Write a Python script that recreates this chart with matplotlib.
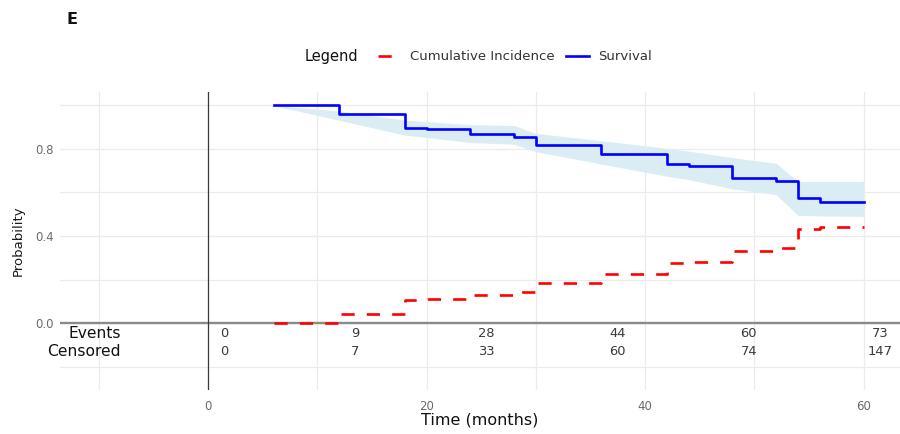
import matplotlib
matplotlib.use("Agg")
import matplotlib.pyplot as plt
from matplotlib.lines import Line2D

# Kaplan-Meier style estimates (months)
times = [6, 12, 18, 20, 24, 28, 30, 36, 42, 44, 48, 52, 54, 56, 60]
survival = [1.000, 0.961, 0.898, 0.890, 0.869, 0.857, 0.817, 0.777,
            0.731, 0.722, 0.665, 0.653, 0.573, 0.558, 0.558]
cum_incidence = [0.000, 0.040, 0.105, 0.110, 0.129, 0.143, 0.182, 0.226,
                 0.275, 0.280, 0.332, 0.343, 0.433, 0.443, 0.443]
surv_upper = [1.000, 0.975, 0.933, 0.926, 0.912, 0.908, 0.872, 0.838,
              0.803, 0.790, 0.760, 0.734, 0.651, 0.651, 0.651]
surv_lower = [1.000, 0.932, 0.864, 0.853, 0.830, 0.822, 0.788, 0.731,
              0.675, 0.659, 0.617, 0.590, 0.495, 0.492, 0.490]

# Risk table
table_times = [0, 12, 24, 36, 48, 60]
events = [0, 9, 28, 44, 60, 73]
censored = [0, 7, 33, 60, 74, 147]
row_labels = ["Events", "Censored"]

x_ticks = [0, 20, 40, 60]
y_ticks = [0.0, 0.4, 0.8]

fig = plt.figure(figsize=(9, 4.34), dpi=100)
ax = fig.add_axes([60 / 900, 1 - 390 / 434, 840 / 900, 298 / 434])
ax.set_xlim(-13.55, 63.34)
ax.set_ylim(-0.308, 1.062)

for s in ax.spines.values():
    s.set_visible(False)

# background grid (major + minor)
grid_kw = dict(color="#ebebeb", lw=0.9, zorder=0)
for gx in range(-10, 61, 10):
    ax.axvline(gx, **grid_kw)
for gy in [-0.2, 0.0, 0.2, 0.4, 0.6, 0.8, 1.0]:
    ax.axhline(gy, **grid_kw)

# reference lines
ax.axhline(0, color="#8a8a8a", lw=1.7, zorder=2)
ax.axvline(0, color="#3a3a3a", lw=0.9, zorder=2)

# confidence band for survival
ax.fill_between(times, surv_lower, surv_upper, color="#dbedf4", lw=0, zorder=1)

ci_line, = ax.plot(times, cum_incidence, drawstyle="steps-post", color="#ff0000",
                   lw=1.9, zorder=4)
ci_line.set_dashes((5.0, 4.6))
surv_line, = ax.plot(times, survival, drawstyle="steps-post", color="#0000ff",
                     lw=1.9, zorder=5)

# risk table inside the panel
ev_y, ce_y = -0.049, -0.131
ax.text(-8, ev_y, row_labels[0], ha="right", va="center", fontsize=11.2, color="#111111")
ax.text(-8, ce_y, row_labels[1], ha="right", va="center", fontsize=11.2, color="#111111")
for t, e, c in zip(table_times, events, censored):
    ax.text(t + 1.5, ev_y, str(e), ha="center", va="center", fontsize=9.4, color="#3a3a3a")
    ax.text(t + 1.5, ce_y, str(c), ha="center", va="center", fontsize=9.4, color="#3a3a3a")

ax.set_xticks(x_ticks)
ax.set_xticklabels([str(v) for v in x_ticks])
ax.set_yticks(y_ticks)
ax.set_yticklabels([f"{v:.1f}" for v in y_ticks])
ax.tick_params(axis="both", length=0, labelsize=8.5, labelcolor="#6b6b6b")
ax.tick_params(axis="x", pad=7.5)
ax.tick_params(axis="y", pad=4.5)

ax.set_xlabel("Time (months)", fontsize=11.5, color="#111111")
ax.xaxis.set_label_coords(0.5, -0.077)
ax.xaxis.label.set_va("top")
ax.set_ylabel("Probability", fontsize=9.5, color="#1a1a1a")
ax.yaxis.set_label_coords(-0.042, 0.5)

# panel tag
fig.text(66 / 900, 1 - 20 / 434, "E", fontsize=11.5, fontweight="bold",
         ha="left", va="center", color="#111111")

# legend
leg_y = 1 - 57 / 434
fig.text(305 / 900, leg_y, "Legend", fontsize=10.5, ha="left", va="center", color="#111111")
h_ci = Line2D([], [], color="#ff0000", lw=1.9, dashes=(5.0, 4.6))
h_s = Line2D([], [], color="#0000ff", lw=1.9)
fig.legend([h_ci, h_s], ["Cumulative Incidence", "Survival"], loc="center left",
           bbox_to_anchor=(378 / 900, leg_y), ncol=2, frameon=False, fontsize=9.5,
           handlelength=1.75, handletextpad=0.7, columnspacing=0.85,
           borderpad=0, borderaxespad=0, labelcolor="#333333")

fig.savefig("out.png", dpi=100)
